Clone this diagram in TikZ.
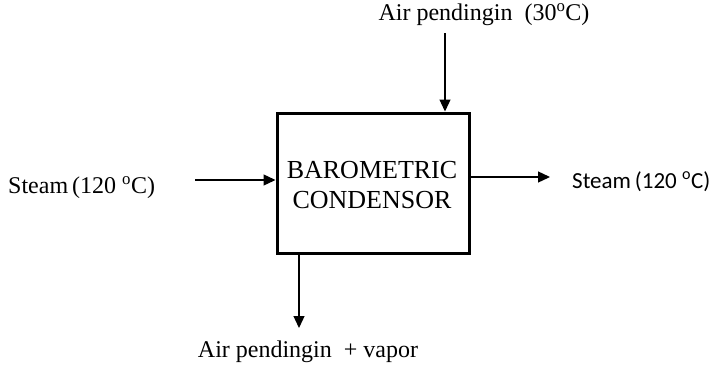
\documentclass[tikz,border=0pt]{standalone}
\usepackage{fontspec}
\setmainfont{Liberation Serif}
\newfontfamily\calibfont{Carlito}
\usetikzlibrary{arrows.meta}
\begin{document}
\begin{tikzpicture}[x=1pt,y=1pt,
  flow/.style={line width=1.3pt,-{Triangle[length=12pt,width=11pt]}},
  unit/.style={draw,line width=3pt,minimum width=192pt,minimum height=140pt,inner sep=0pt},
  lbl/.style={inner sep=0pt,font=\fontsize{24}{28}\selectfont}
]
\useasboundingbox (0,0) rectangle (723,368);

% condenser unit
\node[unit] (box) at (373,185) {};
\node[inner sep=0pt,align=center,font=\fontsize{26}{30}\selectfont] (boxtxt) at (372,183)
  {BAROMETRIC\\CONDENSOR};

% stream end points
\coordinate (inL) at (195,188);
\coordinate (outR) at (550,191);
\coordinate (topS) at (445,335);
\coordinate (botE) at (299,40);

% stream arrows
\draw[flow] (inL) -- (inL -| box.west);
\draw[flow] (outR -| box.east) -- (outR);
\draw[flow] (topS) -- (topS |- box.north);
\draw[flow] (botE |- box.south) -- (botE);

% stream labels
\node[lbl,anchor=west] (tin) at (8,180) {Steam\,(120 \textsuperscript{o}C)};
\node[lbl,anchor=west,font=\calibfont\fontsize{23}{28}\selectfont] (tout) at (572,186) {Steam\,(120 \textsuperscript{o}C)};
\node[lbl] (ttop) at (484,353) {Air pendingin\ \ (30\textsuperscript{o}C)};
\node[lbl] (tbot) at (308,16) {Air pendingin\ \ + vapor};
\end{tikzpicture}
\end{document}
